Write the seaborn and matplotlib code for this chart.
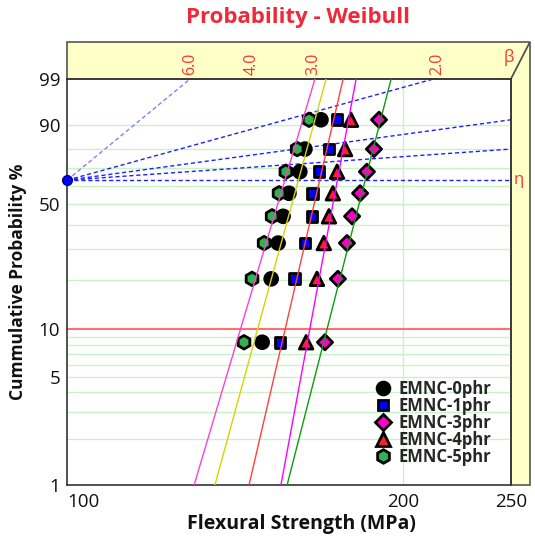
import numpy as np
import pandas as pd
import matplotlib
matplotlib.use("Agg")
import matplotlib.pyplot as plt
from matplotlib.patches import Polygon
from matplotlib.ticker import FixedLocator, NullLocator, FixedFormatter
from matplotlib.transforms import blended_transform_factory
import seaborn as sns

sns.set_theme(style="white")
plt.rcParams['font.family'] = ['Open Sans', 'DejaVu Sans']

# ---- data ----
series = ["EMNC-0phr", "EMNC-1phr", "EMNC-3phr", "EMNC-4phr", "EMNC-5phr"]
rank_pct = [8.3, 20.2, 32.1, 44.0, 56.0, 67.9, 79.8, 91.7]

strength_0phr = [149.6, 152.4, 154.6, 156.2, 158.1, 161.7, 163.4, 168.9]
strength_1phr = [155.2, 159.8, 163.4, 165.8, 166.1, 168.2, 171.7, 174.6]
strength_3phr = [170.3, 174.9, 178.2, 180.1, 183.1, 185.7, 188.4, 190.4]
strength_4phr = [163.8, 167.5, 169.9, 171.7, 173.1, 174.6, 177.5, 179.7]
strength_5phr = [144.1, 146.5, 150.2, 152.7, 154.9, 157.1, 160.8, 164.8]

# fitted lines: strength where each line crosses 1 % and 99 %
fit_at_1 = [135.7, 145.6, 157.5, 155.5, 130.0]
fit_at_99 = [170.7, 176.8, 195.2, 181.6, 166.8]

# beta scale along the top band
beta_labels = [6.0, 4.0, 3.0, 2.0]

# dashed guide lines from the pivot point (100 MPa, 63.2 %)
pivot = (100, 63.2)
guide_end_x = [128.9, 213.0, 250, 250, 250]
guide_end_p = [99, 99, 91.7, 79.8, 63.2]

y_ticks = [1, 5, 10, 50, 90, 99]
y_grid = [2, 3, 4, 5, 6, 7, 8, 9, 20, 30, 40, 50, 60, 70, 80, 90]
x_ticks = [100, 200, 250]

df = pd.DataFrame({
    "strength": strength_0phr + strength_1phr + strength_3phr + strength_4phr + strength_5phr,
    "prob": rank_pct * 5,
    "series": np.repeat(series, len(rank_pct)),
})

palette = {"EMNC-0phr": "black", "EMNC-1phr": "#0000ff", "EMNC-3phr": "#ff00cc",
           "EMNC-4phr": "#ff2020", "EMNC-5phr": "#33b050"}
markers = {"EMNC-0phr": "o", "EMNC-1phr": "s", "EMNC-3phr": "D",
           "EMNC-4phr": "^", "EMNC-5phr": "h"}
msizes = {"EMNC-0phr": 85, "EMNC-1phr": 60, "EMNC-3phr": 60,
          "EMNC-4phr": 95, "EMNC-5phr": 95}
fit_colors = ["#d4d400", "#ff4040", "#109a10", "#ff00ff", "#ff40d0"]


def fwd(p):
    p = np.clip(np.asarray(p, dtype=float), 1e-6, 100 - 1e-6)
    return np.log(-np.log(1 - p / 100))


def inv(u):
    return 100 * (1 - np.exp(-np.exp(np.asarray(u, dtype=float))))


fig = plt.figure(figsize=(5.35, 5.38), dpi=100)
ax = fig.add_axes([67 / 535, 1 - 485 / 538, 444 / 535, 406 / 538])
ax.set_xscale("log")
ax.set_yscale("function", functions=(fwd, inv))
ax.set_xlim(100, 250)
ax.set_ylim(1, 99)

# grid
for g in y_grid:
    ax.axhline(g, color="#c8f2c8", lw=1, zorder=0.5)
ax.axvline(200, color="#c8f2c8", lw=1, zorder=0.5)
ax.axhline(10, color="#ff7070", lw=1.5, zorder=0.6)

# dashed guides
for gx, gp in zip(guide_end_x, guide_end_p):
    c = "#8080ff" if gp == 99 and gx < 150 else "#2020ff"
    ax.plot([pivot[0], gx], [pivot[1], gp], color=c, lw=1, ls=(0, (3, 2)), zorder=1)
ax.plot([pivot[0]], [pivot[1]], "o", color="#0000ff", mec="#000080", ms=7,
        clip_on=False, zorder=5)

sns.scatterplot(data=df, x="strength", y="prob", hue="series", style="series",
                size="series", palette=palette, markers=markers, sizes=msizes,
                edgecolor="black", linewidth=2, ax=ax, zorder=2)

for lo, hi, c in zip(fit_at_1, fit_at_99, fit_colors):
    ax.plot([lo, hi], [1, 99], color=c, lw=1, zorder=3)

# ticks
ax.yaxis.set_major_locator(FixedLocator(y_ticks))
ax.yaxis.set_major_formatter(FixedFormatter([str(t) for t in y_ticks]))
ax.yaxis.set_minor_locator(NullLocator())
ax.xaxis.set_major_locator(FixedLocator(x_ticks))
ax.xaxis.set_major_formatter(FixedFormatter([str(t) for t in x_ticks]))
ax.xaxis.set_minor_locator(NullLocator())
ax.tick_params(axis="both", which="major", direction="out", length=4, width=1,
               color="#333333", labelsize=13.5, labelcolor="#111111")
ax.tick_params(axis="x", pad=2)
ax.tick_params(axis="y", pad=1)
ax.get_xticklabels()[0].set_horizontalalignment("left")

for s in ax.spines.values():
    s.set_color("#333333")
    s.set_linewidth(1.2)

ax.set_xlabel("Flexural Strength (MPa)", fontsize=14, fontweight="bold",
              color="#111111")
ax.xaxis.set_label_coords(0.527, -0.096)
ax.xaxis.label.set_va("center")
ax.set_ylabel("Cummulative Probability %", fontsize=12.5, fontweight="bold",
              color="#111111", labelpad=8)

# 3D-like yellow band on top and right
dx, dy = 19 / 444, 37 / 406
top_band = Polygon([(0, 1), (1, 1), (1 + dx, 1 + dy), (0, 1 + dy)], closed=True,
                   transform=ax.transAxes, clip_on=False, facecolor="#ffffc8",
                   edgecolor="#555555", lw=1.2, zorder=0)
right_band = Polygon([(1, 0), (1 + dx, 0), (1 + dx, 1 + dy), (1, 1)], closed=True,
                     transform=ax.transAxes, clip_on=False, facecolor="#ffffc8",
                     edgecolor="#555555", lw=1.2, zorder=0)
ax.add_patch(top_band)
ax.add_patch(right_band)

u99 = fwd(99)
bt = blended_transform_factory(ax.transData, ax.transAxes)
for b in beta_labels:
    ax.text(100 * np.exp(u99 / b), 1.01, f"{b:.1f}", transform=bt, rotation=90,
            ha="center", va="bottom", color="#ff3333", fontsize=11.5)
ax.text(0.995, 1 + 22 / 406, "\u03b2", transform=ax.transAxes, ha="center",
        va="center", color="#ff3333", fontsize=12)
et = blended_transform_factory(ax.transAxes, ax.transData)
ax.text(1.018, pivot[1], "\u03b7", transform=et, ha="center", va="center",
        color="#ff3333", fontsize=12)

fig.text(298 / 535, 1 - 17 / 538, "Probability - Weibull", ha="center", va="center",
         color="#ee2a3a", fontsize=16, fontweight="bold")

handles, labels = ax.get_legend_handles_labels()
ax.legend(handles, labels, loc="upper left", bbox_to_anchor=(0.675, 0.28),
          frameon=False, handlelength=1.0, handletextpad=0.4, labelspacing=-0.05,
          borderpad=0, markerscale=1.0, prop={"weight": "bold", "size": 12})

fig.savefig("out.png", dpi=100)
